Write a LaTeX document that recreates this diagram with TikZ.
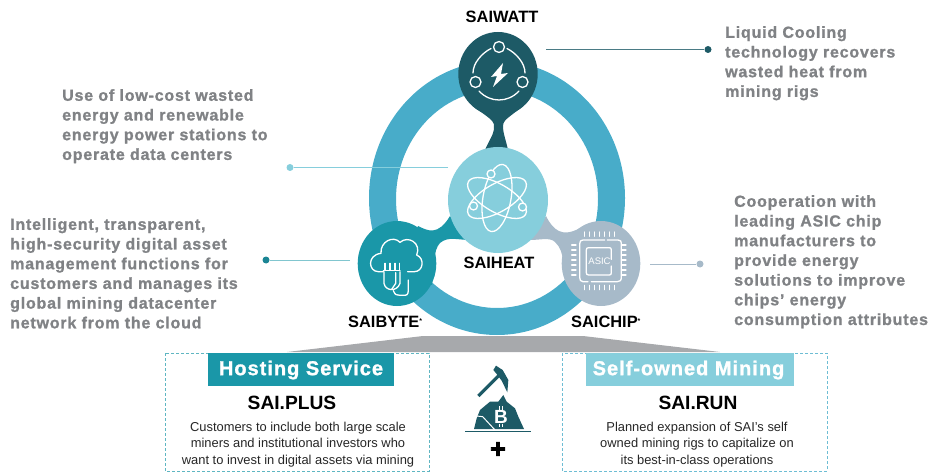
\documentclass[tikz,border=0pt]{standalone}
\usepackage{fontspec}
\setmainfont{Liberation Sans}
\newfontfamily\spacedfont[LetterSpace=5,FakeBold=1.2]{Liberation Sans Bold}
\newfontfamily\bannerfont[LetterSpace=5,FakeBold=1.2]{Liberation Sans Bold}
\newfontfamily\heavyfont[FakeBold=2.5]{Liberation Sans Bold}
\definecolor{ringblue}{HTML}{48ACC9}
\definecolor{wattcol}{HTML}{1D5A66}
\definecolor{heatcol}{HTML}{86CEDC}
\definecolor{bytecol}{HTML}{1A97A8}
\definecolor{chipcol}{HTML}{A7BAC9}
\definecolor{greytext}{HTML}{808285}
\definecolor{bandgrey}{HTML}{A7A9AC}
\tikzset{
  x=1pt,y=-1pt,
  desc/.style={anchor=north west,inner sep=0pt,align=left,text=greytext,font=\fontsize{16}{19.7}\selectfont\spacedfont},
  title/.style={inner sep=0pt,text=black,font=\fontsize{16.4}{18}\selectfont\bfseries},
  subtitle/.style={inner sep=0pt,text=black,font=\fontsize{19.2}{24}\selectfont\bfseries},
  body/.style={inner sep=0pt,align=center,text=black!85,font=\fontsize{12.9}{16.6}\selectfont},
  banner/.style={inner sep=0pt,text=white,font=\fontsize{20}{24}\selectfont\bannerfont},
  icon/.style={draw=white,line width=1.3pt,line cap=round,line join=round},
  dot/.style={circle,inner sep=0pt,minimum size=7pt},
}
\begin{document}
\begin{tikzpicture}
\useasboundingbox (0,0) rectangle (928,473);
% band
\fill[bandgrey] (423,336) -- (583,336) -- (720,352) -- (287,352) -- cycle;
% ring
\fill[ringblue,even odd rule] (497,198) ellipse [x radius=128,y radius=137]
   (497,199) ellipse [x radius=101,y radius=109];
% connectors between circles
\fill[wattcol] (468,100) .. controls (482,116) and (495,118) .. (494,127)
   .. controls (494,135) and (489,140) .. (485,150) -- (508,150)
   .. controls (506,140) and (503,134) .. (503,126)
   .. controls (503,118) and (514,116) .. (528,100) -- cycle;
\fill[bytecol] (418,226) .. controls (428,231) and (438,236) .. (450,216)
   -- (470,240) .. controls (458,240) and (448,236) .. (440,243)
   .. controls (433,250) and (434,268) .. (432,285) -- (400,270) -- cycle;
\fill[chipcol] (546,216) .. controls (553,230) and (562,238) .. (580,228)
   -- (590,270) -- (567,282) .. controls (562,270) and (566,252) .. (555,242)
   .. controls (550,237) and (540,240) .. (530,240) -- cycle;
% main circles
\fill[wattcol] (498,74) ellipse [x radius=39.7,y radius=42];
\fill[heatcol] (498,200) ellipse [x radius=50,y radius=53];
\fill[bytecol] (397,263.5) ellipse [x radius=39.3,y radius=42.5];
\fill[chipcol] (601,263.5) ellipse [x radius=39.3,y radius=42.5];
% watt icon
\begin{scope}[icon]
  \draw (499,47) circle (5.5) (475.5,82) circle (5.5) (522.5,82) circle (5.5);
  \draw (507,48.5) .. controls (516,53) and (525,63) .. (525,73);
  \draw (491,48.5) .. controls (482,53) and (473,63) .. (473,73);
  \draw (479,91) .. controls (490,103) and (508,103) .. (519,91);
  \fill[white,draw=none] (503,63) -- (491,77) -- (497,76) -- (493,87) -- (508,73) -- (501,74) -- cycle;
\end{scope}
% atom icon
\begin{scope}[icon]
  \draw[rotate around={80:(497,198)}] (497,198) ellipse [x radius=34,y radius=14];
  \draw[rotate around={30:(497,198)}] (497,198) ellipse [x radius=33,y radius=14];
  \draw[rotate around={-30:(497,198)}] (497,198) ellipse [x radius=33,y radius=14];
  \fill[heatcol,draw=white] (491,174) circle (4) (473.5,206) circle (4) (522.5,207) circle (4);
\end{scope}
% cloud icon
\begin{scope}[shift={(355,220)},scale=1/3,icon]
  \draw (85,155) -- (70,155) .. controls (40,155) and (35,105) .. (78,100)
     .. controls (75,65) and (115,45) .. (135,67)
     .. controls (160,45) and (200,70) .. (185,105)
     .. controls (210,115) and (205,155) .. (178,155) -- (158,155);
  \draw (90,130) -- (90,150) (105,130) -- (105,150) (120,130) -- (120,150) (133,130) -- (133,150);
  \draw (85,152) -- (135,152);
  \draw (87,155) -- (87,190) .. controls (90,212) and (125,218) .. (135,190) -- (135,155);
  \draw (122,158) -- (122,190) -- (110,208);
  \draw (115,212) .. controls (120,225) and (125,226) .. (135,226) -- (150,226) .. controls (160,226) and (160,215) .. (160,205) -- (160,180);
\end{scope}
% chip icon
\begin{scope}[shift={(558,220)},scale=1/3,icon]
  \draw (148,60) -- (180,60) .. controls (188,60) and (190,64) .. (190,70) -- (190,170) .. controls (190,182) and (186,185) .. (178,185) -- (100,185);
  \draw (90,185) -- (75,185) .. controls (68,185) and (65,180) .. (65,172) -- (65,72) .. controls (65,64) and (68,60) .. (75,60) -- (140,60);
  \draw (160,118) -- (160,90) .. controls (160,85) and (158,83) .. (154,83) -- (92,83) .. controls (87,83) and (85,85) .. (85,90) -- (85,158) .. controls (85,163) and (87,165) .. (92,165) -- (154,165) .. controls (158,165) and (160,163) .. (160,158) -- (160,138);
  \foreach \p in {80,95,...,170} {
    \draw (\p,36) -- (\p,49);
    \draw (\p,196) -- (\p,209);
  }
  \foreach \p in {75,90,...,175} {
    \draw (41,\p) -- (54,\p);
    \draw (191,\p) -- (204,\p);
  }
\end{scope}
\node[inner sep=0pt,text=white,font=\fontsize{9.5}{10}\selectfont] (asic) at (599.5,261.5) {ASIC};
% titles
\node[title] (saiwatt) at (502,17) {SAIWATT};
\node[title] (saiheat) at (499,263) {SAIHEAT};
\node[title,anchor=west] (saibyte) at (348,322) {SAIBYTE\raisebox{4.5pt}{\fontsize{7}{8}\selectfont *}};
\node[title,anchor=west] (saichip) at (571,322) {SAICHIP\raisebox{4.5pt}{\fontsize{7}{8}\selectfont *}};
% leaders
\coordinate (wattstart) at (546,49.5);
\node[dot,fill=wattcol] (wattdot) at (708,49.5) {};
\draw[wattcol!80!white,line width=.8pt] (wattstart) -- (wattdot);
\coordinate (heatstart) at (448,167.5);
\node[dot,fill=heatcol] (heatdot) at (290,167.5) {};
\draw[heatcol,line width=.8pt] (heatstart) -- (heatdot);
\coordinate (bytestart) at (350,260);
\node[dot,fill=bytecol!70!wattcol] (bytedot) at (266,260) {};
\draw[bytecol!55!white,line width=.8pt] (bytestart) -- (bytedot);
\coordinate (chipstart) at (650,264);
\node[dot,fill=chipcol] (chipdot) at (700,264) {};
\draw[chipcol,line width=.8pt] (chipstart) -- (chipdot);
% descriptions
\node[desc] (d1) at (62,89) {Use of low-cost wasted\\energy and renewable\\energy power stations to\\operate data centers};
\node[desc] (d2) at (10,218) {Intelligent, transparent,\\high-security digital asset\\management functions for\\customers and manages its\\global mining datacenter\\network from the cloud};
\node[desc] (d3) at (725,26) {Liquid Cooling\\technology recovers\\wasted heat from\\mining rigs};
\node[desc] (d4) at (734,195) {Cooperation with\\leading ASIC chip\\manufacturers to\\provide energy\\solutions to improve\\chips’ energy\\consumption attributes};
% lower boxes
\draw[draw=bytecol!70!white,dashed,dash pattern=on 3pt off 2pt,line width=.8pt] (165,353) rectangle (429,471);
\draw[draw=ringblue!80!white,dashed,dash pattern=on 3pt off 2pt,line width=.8pt] (562,353) rectangle (827,471);
\fill[bytecol] (208,353) rectangle (394,386);
\fill[heatcol] (586,353) rectangle (794,386);
\node[banner] (hosting) at (301,370) {Hosting Service};
\node[banner] (selfowned) at (688.5,370) {Self-owned Mining};
\node[subtitle] (plus) at (292,403) {SAI.PLUS};
\node[subtitle] (run) at (698,403) {SAI.RUN};
\node[body] (plusbody) at (298,444.5) {Customers to include both large scale\\miners and institutional investors who\\want to invest in digital assets via mining};
\node[body] (runbody) at (697,444.5) {Planned expansion of SAI’s self\\owned mining rigs to capitalize on\\its best-in-class operations};
% mining icon
\begin{scope}[shift={(460,360)},scale=1/3]
  \draw[wattcol,line width=3.2pt] (55,108) -- (118,45);
  \fill[wattcol] (100,30) -- (108,17) -- (128,30) -- (145,60) -- (142,97) -- (125,62) -- (110,42) -- cycle;
  \fill[wattcol] (42,207) -- (50,175) -- (60,150) -- (90,125) -- (115,125) -- (130,105) -- (140,125) -- (165,145) -- (175,170) -- (192,207) -- cycle;
  \draw[white,line width=1pt] (50,168) -- (68,170) -- (105,210);
  \draw[white,line width=1pt] (172,155) -- (190,178);
  \draw[wattcol,line width=1pt] (15,213) -- (212,213);
  \draw[white,line width=1pt] (117,139) -- (117,149) (127,139) -- (127,149) (117,191) -- (117,201) (127,191) -- (127,201);
\end{scope}
\node[inner sep=0pt,text=white,font=\fontsize{19}{20}\selectfont\bfseries] (btc) at (501,416.5) {B};
\node[inner sep=0pt,text=black,font=\fontsize{27}{28}\selectfont\heavyfont] (plussign) at (498,450) {+};
\end{tikzpicture}
\end{document}
